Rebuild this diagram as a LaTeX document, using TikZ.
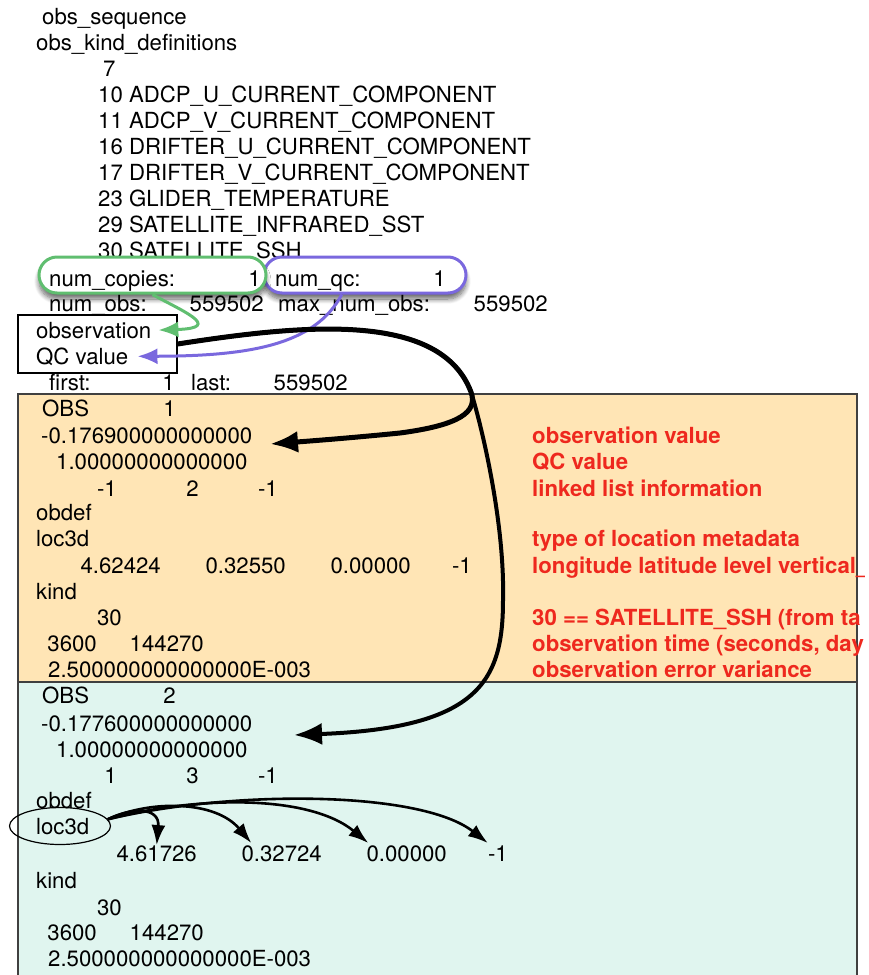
\documentclass[tikz,border=0pt]{standalone}
\usepackage{fontspec}
\setmainfont{TeX Gyre Heros}
\usetikzlibrary{arrows.meta,shapes.geometric,shapes.misc,shadows.blur}
\definecolor{obsorange}{RGB}{255,229,181}
\definecolor{obsteal}{RGB}{224,245,239}
\definecolor{copygreen}{RGB}{96,190,112}
\definecolor{qcpurple}{RGB}{122,104,222}
\definecolor{notered}{RGB}{238,40,30}
\begin{document}
\begin{tikzpicture}[x=1pt,y=1pt,
  txt/.style={anchor=base west,inner sep=0pt,font=\fontsize{22.2}{26}\selectfont},
  num/.style={txt,anchor=base east},
  note/.style={txt,text=notered,font=\fontsize{22.2}{26}\selectfont\bfseries},
  boxline/.style={draw=black!75,line width=1.5pt},
  ring/.style={draw=#1,line width=3pt,rounded rectangle,fill=white,
    minimum height=36pt,inner sep=0pt,
    blur shadow={shadow xshift=0pt,shadow yshift=-6pt,shadow blur radius=5pt,
      shadow blur steps=10,shadow opacity=60}},
  tagarrow/.style={draw=#1,line width=3pt,-{Latex[length=20pt,width=16pt]}},
  bigarrow/.style={line width=5pt,-{Latex[length=28pt,width=22pt]}},
  locarrow/.style={line width=2.6pt,-{Latex[length=20pt,width=14pt]}}]
  \useasboundingbox (0,0) rectangle (868,-975);
  %%% the two records
  \draw[boxline,fill=obsorange] (18,-394) rectangle (857,-682);
  \draw[boxline,fill=obsteal] (18,-682) rectangle (857,-990);
  %%% header
  \node[txt] (seqlab) at (42,-24) {obs\_sequence};
  \node[txt] (kindlab) at (36,-50) {obs\_kind\_definitions};
  \node[txt] (nkinds) at (103,-76) {7};
  \node[txt] (k10) at (98,-102) {10 ADCP\_U\_CURRENT\_COMPONENT};
  \node[txt] (k11) at (98,-128) {11 ADCP\_V\_CURRENT\_COMPONENT};
  \node[txt] (k16) at (98,-154) {16 DRIFTER\_U\_CURRENT\_COMPONENT};
  \node[txt] (k17) at (98,-180) {17 DRIFTER\_V\_CURRENT\_COMPONENT};
  \node[txt] (k23) at (98,-206) {23 GLIDER\_TEMPERATURE};
  \node[txt] (k29) at (98,-232) {29 SATELLITE\_INFRARED\_SST};
  \node[txt] (k30) at (98,-258) {30 SATELLITE\_SSH};
  %%% rings
  \node[ring=qcpurple,minimum width=202pt] (qcring) at (365,-275) {};
  \node[ring=copygreen,minimum width=227pt] (copyring) at (152.5,-275) {};
  \node[txt] (copylab) at (49,-286) {num\_copies:};
  \node[num] (copyval) at (261,-286) {1};
  \node[txt] (qclab0) at (275,-286) {num\_qc:};
  \node[num] (qcval0) at (446,-286) {1};
  \node[txt] (nobslab) at (49,-311) {num\_obs:};
  \node[num] (nobsval) at (264,-311) {559502};
  \node[txt] (maxlab) at (278,-311) {max\_num\_obs:};
  \node[num] (maxval) at (548,-311) {559502};
  %%% copy box
  \node[draw,line width=1.2pt,minimum width=159pt,minimum height=58pt,inner sep=0pt] (hdrbox) at (97.5,-344) {};
  \node[txt] (obslab) at (36,-338) {observation};
  \node[txt] (qclab) at (36,-364) {QC value};
  \node[txt] (firstlab) at (49,-390) {first:};
  \node[num] (firstval) at (175,-390) {1};
  \node[txt] (lastlab) at (191,-390) {last:};
  \node[num] (lastval) at (348,-390) {559502};
  %%% OBS 1
  \node[txt] (obs1) at (42,-416) {OBS};
  \node[num] (obs1n) at (176,-416) {1};
  \node[txt] (val1) at (41,-443) {-0.176900000000000};
  \node[txt] (qc1) at (56,-469) {1.00000000000000};
  \node[num] (prev1) at (117,-496) {-1};
  \node[num] (next1) at (199,-496) {2};
  \node[num] (cur1) at (278,-496) {-1};
  \node[txt] (obdef1) at (36,-520) {obdef};
  \node[txt] (loc1) at (36,-546) {loc3d};
  \node[num] (lon1) at (161,-573) {4.62424};
  \node[num] (lat1) at (286,-573) {0.32550};
  \node[num] (lev1) at (411,-573) {0.00000};
  \node[num] (vc1) at (472,-573) {-1};
  \node[txt] (kind1) at (36,-599) {kind};
  \node[num] (kn1) at (122,-625) {30};
  \node[num] (sec1) at (97,-651) {3600};
  \node[num] (day1) at (204,-651) {144270};
  \node[txt] (err1) at (48,-677) {2.500000000000000E-003};
  %%% OBS 2
  \node[txt] (obs2) at (42,-703) {OBS};
  \node[num] (obs2n) at (176,-703) {2};
  \node[txt] (val2) at (41,-731) {-0.177600000000000};
  \node[txt] (qc2) at (56,-757) {1.00000000000000};
  \node[num] (prev2) at (117,-783) {1};
  \node[num] (next2) at (199,-783) {3};
  \node[num] (cur2) at (278,-783) {-1};
  \node[txt] (obdef2) at (36,-808) {obdef};
  \node[txt] (loc2) at (36,-834) {loc3d};
  \node[draw,ellipse,line width=1.2pt,minimum width=101pt,minimum height=37pt,inner sep=0pt] (locring) at (60,-826) {};
  \node[num] (lon2) at (197,-861) {4.61726};
  \node[num] (lat2) at (322,-861) {0.32724};
  \node[num] (lev2) at (447,-861) {0.00000};
  \node[num] (vc2) at (508,-861) {-1};
  \node[txt] (kind2) at (36,-888) {kind};
  \node[num] (kn2) at (122,-915) {30};
  \node[num] (sec2) at (97,-940) {3600};
  \node[num] (day2) at (204,-940) {144270};
  \node[txt] (err2) at (48,-966) {2.500000000000000E-003};
  %%% notes
  \begin{scope}
    \clip (0,-394) rectangle (864,-682);
    \node[note] (n1) at (532,-443) {observation value};
    \node[note] (n2) at (532,-469) {QC value};
    \node[note] (n3) at (532,-496) {linked list information};
    \node[note] (n4) at (532,-546) {type of location metadata};
    \node[note] (n5) at (532,-573) {longitude latitude level vertical\_};
    \node[note] (n6) at (532,-625) {30 == SATELLITE\_SSH (from ta};
    \node[note] (n7) at (532,-651) {observation time (seconds, day};
    \node[note] (n8) at (532,-677) {observation error variance};
  \end{scope}
  %%% end points
  \path (obslab.east) ++(7,0) coordinate (tipg);
  \path (qclab.east) ++(9,0) coordinate (tipq);
  \path (471,-392) coordinate (split);
  \path (270,-444) coordinate (tip1);
  \path (294,-735) coordinate (tip2);
  \path (lat2.north west) ++(10,2) coordinate (tlat);
  \path (lev2.north west) ++(2,2) coordinate (tlev);
  \path (vc2.north west) ++(0,2) coordinate (tvc);
  %%% arrows
  \draw[tagarrow=copygreen] (copyring.south) .. controls (180,-310) and (225,-328) .. (tipg);
  \draw[tagarrow=qcpurple] (qcring.220) .. controls (315,-345) and (250,-356) .. (tipq);
  \draw[bigarrow,line width=4pt] (hdrbox.east) .. controls (300,-325) and (440,-310) .. (split)
    .. controls (480,-420) and (505,-520) .. (503,-600) .. controls (503,-680) and (480,-728) .. (tip2);
  \draw[bigarrow] (hdrbox.east) .. controls (300,-325) and (440,-310) .. (split)
    .. controls (478,-412) and (460,-425) .. (400,-433) .. controls (350,-438) and (310,-441) .. (tip1);
  %%%
  \draw[locarrow] (locring.8) .. controls (130,-808) and (160,-806) .. (lon2.north);
  \draw[locarrow] (locring.8) .. controls (150,-800) and (215,-800) .. (tlat);
  \draw[locarrow] (locring.8) .. controls (200,-795) and (310,-795) .. (tlev);
  \draw[locarrow] (locring.8) .. controls (230,-790) and (420,-790) .. (tvc);
\end{tikzpicture}
\end{document}
